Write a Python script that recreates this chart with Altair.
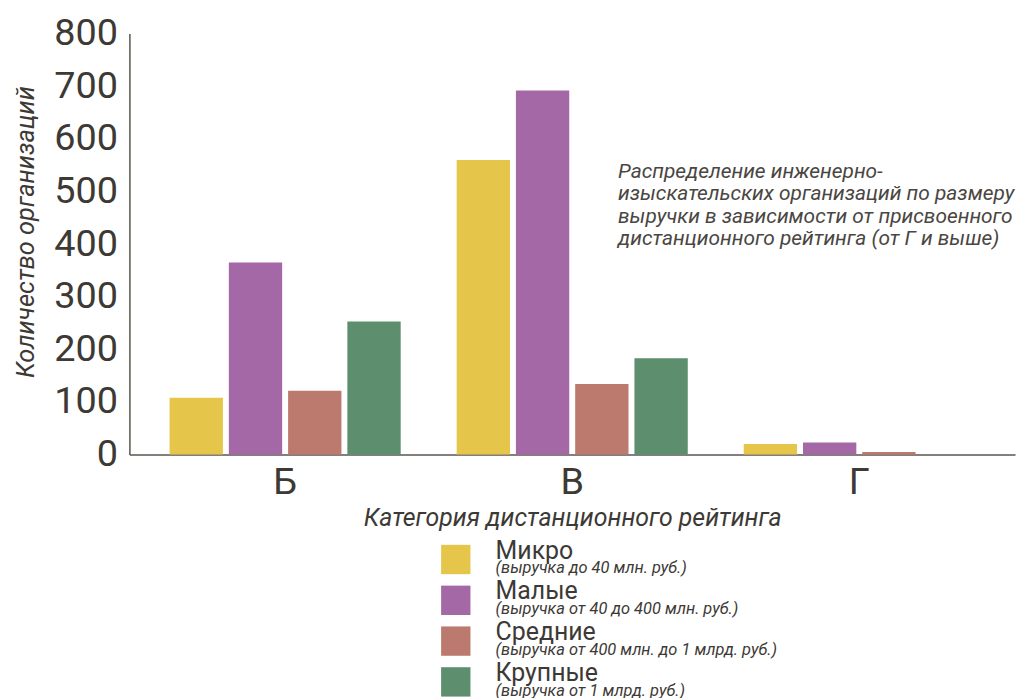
import altair as alt
import pandas as pd

categories = ["Б", "В", "Г"]
sizes = ["Микро", "Малые", "Средние", "Крупные"]
size_notes = [
    "(выручка до 40 млн. руб.)",
    "(выручка от 40 до 400 млн. руб.)",
    "(выручка от 400 млн. до 1 млрд. руб.)",
    "(выручка от 1 млрд. руб.)",
]
colors = ["#E5C64B", "#A568A7", "#BB7A6D", "#5D8E6D"]
micro = [108, 560, 20]
small = [365, 692, 23]
medium = [121, 134, 5]
large = [253, 183, 0]
y_ticks = [0, 100, 200, 300, 400, 500, 600, 700, 800]
annotation_lines = [
    "Распределение инженерно-",
    "изыскательских организаций по размеру",
    "выручки в зависимости от присвоенного",
    "дистанционного рейтинга (от Г и выше)",
]

TEXT = "#3d3935"
FONT = "Roboto"

rows = []
for s, vals in zip(sizes, [micro, small, medium, large]):
    for c, v in zip(categories, vals):
        rows.append({"cat": c, "size": s, "count": v})
df = pd.DataFrame(rows)

bars = alt.Chart(df).mark_bar().encode(
    x=alt.X(
        "cat:N",
        sort=categories,
        scale=alt.Scale(paddingInner=0.195, paddingOuter=0.14),
        axis=alt.Axis(
            title="Категория дистанционного рейтинга",
            labelAngle=0,
            labelFontSize=38,
            labelPadding=9,
            labelColor=TEXT,
            ticks=False,
            domainColor="#5a5550",
            domainWidth=1.5,
            titleFontStyle="italic",
            titleFontWeight="normal",
            titleFontSize=25,
            titleColor=TEXT,
            titlePadding=4,
        ),
    ),
    xOffset=alt.XOffset("size:N", sort=sizes, scale=alt.Scale(paddingInner=0.1, paddingOuter=0)),
    y=alt.Y(
        "count:Q",
        scale=alt.Scale(domain=[0, 800]),
        axis=alt.Axis(
            values=y_ticks,
            grid=False,
            ticks=False,
            labelFontSize=38,
            labelPadding=12,
            labelColor=TEXT,
            domainColor="#5a5550",
            domainWidth=1.5,
            title="Количество организаций",
            titleFontStyle="italic",
            titleFontWeight="normal",
            titleFontSize=25.5,
            titleColor=TEXT,
            titlePadding=15,
            titleY=199,
        ),
    ),
    color=alt.Color("size:N", scale=alt.Scale(domain=sizes, range=colors), legend=None),
)

note = alt.Chart(pd.DataFrame({"t": ["\n".join(annotation_lines)]})).mark_text(
    align="left",
    baseline="alphabetic",
    lineBreak="\n",
    lineHeight=22.5,
    fontSize=21,
    fontStyle="italic",
    color="#4a4642",
).encode(x=alt.value(491), y=alt.value(145), text="t:N")

main = alt.layer(bars, note).properties(width=890, height=423)

leg_df = pd.DataFrame({"size": sizes, "note": size_notes})
leg_base = alt.Chart(leg_df).encode(
    y=alt.Y("size:N", sort=sizes, axis=None, scale=alt.Scale(paddingInner=0, paddingOuter=0))
)
swatch = leg_base.mark_square(size=870, opacity=1, strokeWidth=0).encode(
    x=alt.value(328),
    color=alt.Color("size:N", scale=alt.Scale(domain=sizes, range=colors), legend=None),
)
name = leg_base.mark_text(
    align="left", baseline="alphabetic", fontSize=25, color=TEXT, dy=-1
).encode(x=alt.value(368), text="size:N")
sub = leg_base.mark_text(
    align="left", baseline="alphabetic", fontSize=16.5, fontStyle="italic", color=TEXT, dy=14
).encode(x=alt.value(368), text="note:N")
legend = alt.layer(swatch, name, sub).properties(width=600, height=164)

chart = alt.vconcat(main, legend, spacing=8).configure(
    font=FONT, view=alt.ViewConfig(stroke=None)
)

chart.save("out.html", embed_options={"renderer": "svg", "actions": False})
